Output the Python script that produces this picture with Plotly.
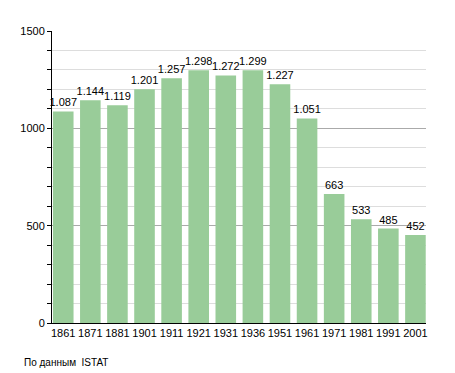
import plotly.graph_objects as go

years = ["1861", "1871", "1881", "1901", "1911", "1921", "1931", "1936", "1951", "1961", "1971", "1981", "1991", "2001"]
population = [1087, 1144, 1119, 1201, 1257, 1298, 1272, 1299, 1227, 1051, 663, 533, 485, 452]
labels = ["1.087", "1.144", "1.119", "1.201", "1.257", "1.298", "1.272", "1.299", "1.227", "1.051", "663", "533", "485", "452"]
y_ticks = [0, 500, 1000, 1500]

fig = go.Figure()
fig.add_trace(go.Bar(
    x=years, y=population, text=labels, textposition="outside",
    constraintext="none",
    textfont=dict(size=11, color="#000000", family="Liberation Sans, Arial"),
    marker=dict(color="#99CC99", line=dict(width=0)),
    width=0.76, cliponaxis=False,
))

fig.update_layout(
    width=447, height=365,
    margin=dict(l=42, r=29, t=23, b=50),
    paper_bgcolor="white", plot_bgcolor="white",
    showlegend=False,
    font=dict(family="Liberation Sans, Arial", size=11, color="#000000"),
)
fig.update_xaxes(
    type="category", range=[-0.415, 13.39], showline=True, linecolor="#000000", linewidth=1,
    ticks="", showgrid=False, tickfont=dict(size=11), ticklen=0,
)
fig.update_yaxes(
    range=[0, 1500], tickvals=y_ticks, showline=True, linecolor="#000000", linewidth=1,
    ticks="outside", ticklen=4, tickcolor="#000000",
    showgrid=True, gridcolor="#AAAAAA", gridwidth=1, zeroline=False,
    minor=dict(dtick=100, ticks="outside", ticklen=4, tickcolor="#000000", showgrid=True, gridcolor="#DDDDDD"),
    tickfont=dict(size=11),
)
fig.add_annotation(
    text="По данным  ISTAT", xref="paper", yref="paper", x=-0.08, y=-0.134,
    xanchor="left", yanchor="middle", showarrow=False, font=dict(size=10, color="#000000"),
)
fig.write_html("out.html")
